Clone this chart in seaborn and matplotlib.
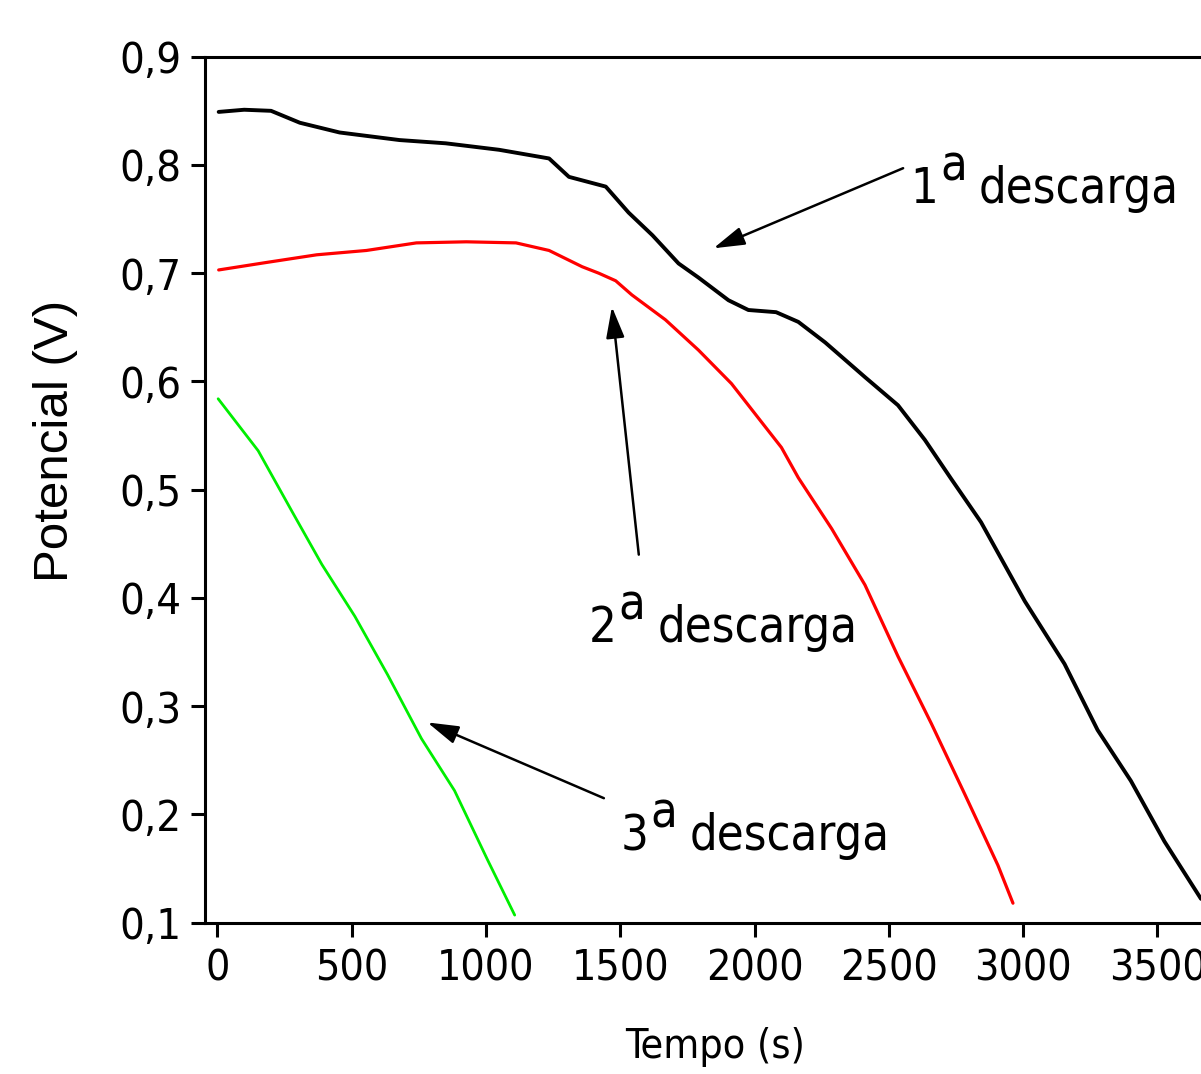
import numpy as np
import pandas as pd
import matplotlib
matplotlib.use('Agg')
import matplotlib.pyplot as plt
import matplotlib.font_manager as fm
from matplotlib.textpath import text_to_path
import seaborn as sns

# leituras aproximadas das curvas de descarga (tempo em s, potencial em V)
t1 = [5, 100, 200, 307, 455, 678, 850, 1049, 1235, 1309, 1446, 1531, 1620, 1717, 1791,
      1903, 1977, 2080, 2163, 2263, 2411, 2534, 2634, 2732, 2843, 3006, 3154, 3277, 3401,
      3526, 3662]
v1 = [0.849, 0.851, 0.850, 0.839, 0.830, 0.823, 0.820, 0.814, 0.806, 0.789, 0.780, 0.756,
      0.735, 0.709, 0.696, 0.675, 0.666, 0.664, 0.655, 0.636, 0.604, 0.578, 0.546, 0.510,
      0.470, 0.397, 0.339, 0.278, 0.231, 0.175, 0.122]

t2 = [5, 185, 370, 555, 741, 927, 1112, 1235, 1358, 1420, 1483, 1543, 1668, 1791, 1914,
      2040, 2100, 2163, 2287, 2411, 2534, 2658, 2782, 2906, 2962]
v2 = [0.703, 0.710, 0.717, 0.721, 0.728, 0.729, 0.728, 0.721, 0.706, 0.700, 0.693, 0.680,
      0.657, 0.629, 0.598, 0.558, 0.539, 0.511, 0.464, 0.412, 0.346, 0.284, 0.219, 0.153,
      0.118]

t3 = [3, 152, 280, 389, 512, 634, 760, 883, 1006, 1107]
v3 = [0.584, 0.536, 0.479, 0.431, 0.383, 0.329, 0.270, 0.222, 0.158, 0.107]

x_ticks = [0, 500, 1000, 1500, 2000, 2500, 3000, 3500]
y_ticks = [0.1, 0.2, 0.3, 0.4, 0.5, 0.6, 0.7, 0.8, 0.9]
y_labels = ['0,1', '0,2', '0,3', '0,4', '0,5', '0,6', '0,7', '0,8', '0,9']


def pick_narrow():
    fl = fm.fontManager.ttflist
    regular = lambda f: f.style == 'normal' and f.weight in (400, 'normal', 'regular')
    for want in ['Liberation Sans Narrow', 'Arial Narrow']:
        for f in fl:
            if f.name == want and regular(f):
                return fm.FontProperties(fname=f.fname)
    for st in ['condensed', 'semi-condensed']:
        for fam in ['Liberation Sans', 'DejaVu Sans', 'Noto Sans', 'Roboto', 'Open Sans', 'Lato', 'Inter']:
            for f in fl:
                if (f.name.startswith(fam) and 'Mono' not in f.name and 'CJK' not in f.name
                        and f.stretch == st and regular(f)):
                    return fm.FontProperties(fname=f.fname)
    return fm.FontProperties(family='Liberation Sans')


def fitted(fp, s, target_px):
    # tamanho (pt) para que o texto s ocupe target_px pixels de largura a 100 dpi
    p = fp.copy()
    p.set_size(100)
    w, h, d = text_to_path.get_text_width_height_descent(s, p, ismath=False)
    p.set_size(100 * target_px * 0.72 / w)
    return p


sns.set_style('ticks')
plt.rcParams['font.family'] = ['Liberation Sans', 'DejaVu Sans']
for k in ['text.color', 'axes.labelcolor', 'xtick.color', 'ytick.color', 'axes.edgecolor']:
    plt.rcParams[k] = 'black'
plt.rcParams['axes.unicode_minus'] = False

narrow = pick_narrow()
fp_tick = fitted(narrow, '1000', 98)
fp_ytick = fitted(narrow, '0,9', 62)
fp_ann = fitted(narrow, 'descarga', 200)
fp_xlab = fitted(narrow, 'Tempo (s)', 180)
fp_ylab = fitted(fm.FontProperties(family='Liberation Sans'), 'Potencial (V)', 282)

fig = plt.figure(figsize=(12.01, 10.74), dpi=100)
ax = fig.add_axes([0.1709, 0.1409, 0.8291, 0.8063])

df1 = pd.DataFrame({'Tempo': t1, 'Potencial': v1})
df2 = pd.DataFrame({'Tempo': t2, 'Potencial': v2})
df3 = pd.DataFrame({'Tempo': t3, 'Potencial': v3})

sns.lineplot(data=df1, x='Tempo', y='Potencial', color='black', lw=2.8, sort=False, estimator=None, ax=ax)
sns.lineplot(data=df2, x='Tempo', y='Potencial', color='#ff0000', lw=2.3, sort=False, estimator=None, ax=ax)
sns.lineplot(data=df3, x='Tempo', y='Potencial', color='#00ee00', lw=2.0, sort=False, estimator=None, ax=ax)

ax.set_xlim(-45, 3662)
ax.set_ylim(0.1, 0.9)
ax.set_xticks(x_ticks)
ax.set_xticklabels([str(v) for v in x_ticks], fontproperties=fp_tick)
ax.set_yticks(y_ticks)
ax.set_yticklabels(y_labels, fontproperties=fp_ytick)
ax.tick_params(axis='both', direction='out', length=10, width=2.2, color='black', labelcolor='black')
ax.tick_params(axis='x', pad=8)
ax.tick_params(axis='y', pad=7)

for s in ['left', 'bottom', 'top']:
    ax.spines[s].set_linewidth(2.2)
    ax.spines[s].set_color('black')
    ax.spines[s].set_visible(True)
ax.spines['right'].set_visible(False)

ax.set_xlabel('Tempo (s)', fontproperties=fp_xlab)
ax.xaxis.set_label_coords(0.512, -0.12)
ax.set_ylabel('Potencial (V)', fontproperties=fp_ylab)
ax.yaxis.set_label_coords(-0.128, 0.556)

arrow = dict(arrowstyle='-|>,head_length=0.95,head_width=0.28', color='black', lw=1.8,
             mutation_scale=20, shrinkA=0, shrinkB=0)
ax.annotate('', xy=(1847, 0.723), xytext=(2553, 0.797), arrowprops=arrow)
ax.annotate('', xy=(1469, 0.669), xytext=(1569, 0.440), arrowprops=arrow)
ax.annotate('', xy=(782, 0.285), xytext=(1439, 0.215), arrowprops=arrow)

sz = fp_ann.get_size_in_points()
for num, (xt, yt) in zip(['1', '2', '3'], [(2578, 0.765), (1382, 0.359), (1500, 0.167)]):
    tn = ax.text(xt, yt, num, fontproperties=fp_ann, ha='left', va='baseline')
    ta = ax.annotate('a', xy=(1, 0), xycoords=tn, xytext=(0.05 * sz, 0.46 * sz),
                     textcoords='offset points', fontproperties=fp_ann, ha='left', va='bottom')
    ax.annotate('descarga', xy=(1, 0), xycoords=(ta, tn), xytext=(0.25 * sz, 0),
                textcoords='offset points', fontproperties=fp_ann, ha='left', va='bottom')

fig.savefig('out.png', dpi=100, facecolor='white')
